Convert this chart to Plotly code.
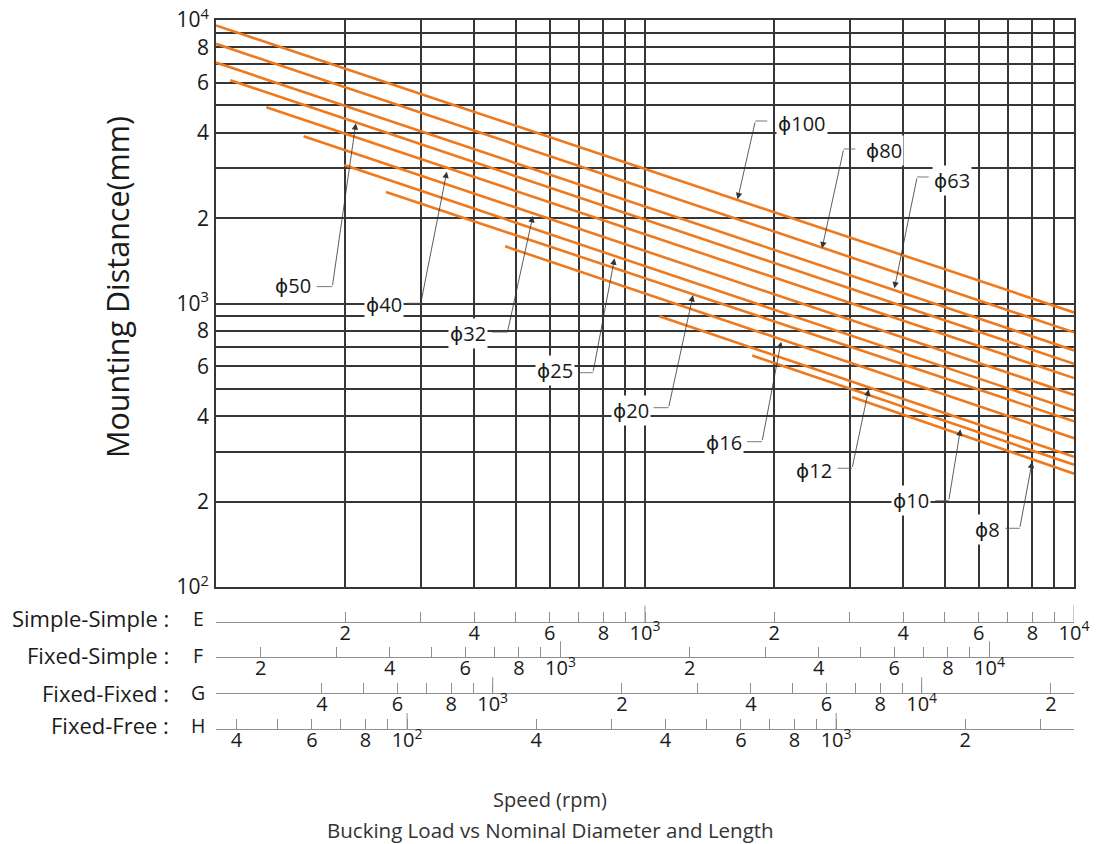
import numpy as np
import plotly.graph_objects as go

# ---------------- data ----------------
diameters = ['100', '80', '63', '50', '40', '32', '25', '20', '16', '12', '10', '8']
start_speed = [100, 100, 100, 108, 131, 160, 199, 249, 472, 1080, 1778, 3038]
start_dist = [9564, 8241, 7078, 6131, 4921, 3890, 3082, 2475, 1591, 901, 655, 468]
end_speed = [10000, 10000, 10000, 10000, 10000, 10000, 10000, 10000, 10000, 10000, 10000, 10000]
end_dist = [930, 791, 683, 613, 546, 476, 419, 384, 335, 288, 270, 251]

# label callouts (speed, distance)
label_speed = [2327, 3614, 5208, 151.5, 246.1, 387.7, 616.6, 928.8, 1532, 2473, 4167, 6301]
label_dist = [4314, 3479, 2726, 1162, 988, 785, 579.4, 417.7, 323.9, 257.2, 202.7, 158.9]
leader_text_speed = [1928, 3093, 4585, 171.8, 278.5, 439.5, 699.8, 1047, 1729, 2812, 4753, 6922]
elbow_speed = [1808, 2905, 4309, 186.7, 300.2, 478, 756.3, 1135, 1874, 3039, 5105, 7474]
elbow_dist = [4403, 3508, 2794, 1147, 1002, 793, 570, 429, 325.4, 262.3, 201.6, 161.1]
tip_speed = [1644, 2586, 3814, 211.8, 345.2, 547.8, 849.2, 1294, 2076, 3322, 5436, 7989]
tip_dist = [2331, 1565, 1131, 4321, 2917, 2035, 1443, 1071, 733.5, 498, 359.9, 276.7]

# main grid
x_grid_vals = [100, 200, 300, 400, 500, 600, 700, 800, 900,
               1000, 2000, 3000, 4000, 5000, 6000, 7000, 8000, 9000, 10000]
y_tick_vals = [100, 200, 400, 600, 800, 1000, 2000, 4000, 6000, 8000, 10000]
y_tick_text = ['10<sup>2</sup>', '2', '4', '6', '8', '10<sup>3</sup>', '2', '4', '6', '8', '10<sup>4</sup>']
y_minor_vals = [300, 500, 700, 900, 3000, 5000, 7000, 9000]

# speed scales
row_names = ['Simple-Simple :', 'Fixed-Simple :', 'Fixed-Fixed :', 'Fixed-Free :']
row_letters = ['E', 'F', 'G', 'H']
row_labeled = [
    [200, 400, 600, 800, 1000, 2000, 4000, 6000, 8000, 10000],
    [200, 400, 600, 800, 1000, 2000, 4000, 6000, 8000, 10000],
    [400, 600, 800, 1000, 2000, 4000, 6000, 8000, 10000, 20000],
    [40, 60, 80, 100, 200, 400, 600, 800, 1000, 2000],
]
row_text = [
    ['2', '4', '6', '8', '10<sup>3</sup>', '2', '4', '6', '8', '10<sup>4</sup>'],
    ['2', '4', '6', '8', '10<sup>3</sup>', '2', '4', '6', '8', '10<sup>4</sup>'],
    ['4', '6', '8', '10<sup>3</sup>', '2', '4', '6', '8', '10<sup>4</sup>', '2'],
    ['4', '6', '8', '10<sup>2</sup>', '4', '4', '6', '8', '10<sup>3</sup>', '2'],
]
row_minor = [
    [100, 300, 500, 700, 900, 3000, 5000, 7000, 9000],
    [300, 500, 700, 900, 3000, 5000, 7000, 9000],
    [500, 700, 900, 3000, 5000, 7000, 9000],
    [50, 70, 90, 300, 500, 700, 900, 3000],
]
row_decades = [[1000, 10000], [1000, 10000], [1000, 10000], [100, 1000]]

# ---------------- layout constants ----------------
W, H = 1097, 844
ML, MR, MT, MB = 216, 23, 20, 115
PW, PH = W - ML - MR, H - MT - MB
def py(ypix):
    return (H - MB - ypix) / PH
def px(xpix):
    return (xpix - ML) / PW

ORANGE = '#EF7A1E'
GRID = '#363636'
SCALE = '#8f8f8f'
FONT = 'Open Sans'
PHI = "<span style=\"font-family:'DejaVu Sans'\">ϕ</span>"

row_ranges = [[2.0, 4.0], [2.197, 4.197], [2.355, 4.355], [1.5545, 3.5545]]
row_pos = [py(621.7), py(657.3), py(693.3), 0.0]
row_label_y = [py(618), py(655), py(692.5), py(725)]

fig = go.Figure()
for i in range(len(diameters)):
    fig.add_trace(go.Scatter(
        x=[start_speed[i], end_speed[i]], y=[start_dist[i], end_dist[i]],
        mode='lines', line=dict(color=ORANGE, width=2.6),
        name='ϕ' + diameters[i], hoverinfo='skip', showlegend=False))

layout = dict(
    width=W, height=H,
    margin=dict(l=ML, r=MR, t=MT, b=MB, autoexpand=False),
    plot_bgcolor='white', paper_bgcolor='white',
    font=dict(family=FONT, color='#1a1a1a'),
    showlegend=False,
    xaxis=dict(type='log', range=[2, 4], domain=[0, 1], anchor='y', automargin=False,
               tickmode='array', tickvals=x_grid_vals, showticklabels=False, ticks='',
               showgrid=True, gridcolor=GRID, gridwidth=1.8,
               showline=True, linecolor=GRID, linewidth=1.8, mirror=True, zeroline=False),
    yaxis=dict(type='log', range=[2, 4], domain=[py(587), 1], anchor='x', automargin=False,
               tickmode='array', tickvals=y_tick_vals, ticktext=y_tick_text, ticks='',
               tickfont=dict(size=21, color='#1a1a1a'), ticklabelstandoff=1,
               showgrid=True, gridcolor=GRID, gridwidth=1.8,
               minor=dict(tickmode='array', tickvals=y_minor_vals, ticks='',
                          showgrid=True, gridcolor=GRID, gridwidth=1.8),
               showline=True, linecolor=GRID, linewidth=1.8, mirror=True, zeroline=False),
)

shapes = []
annotations = []
for r in range(4):
    ax_name = 'xaxis%d' % (r + 2)
    ref = 'x%d' % (r + 2)
    layout[ax_name] = dict(
        type='log', range=row_ranges[r], overlaying='x', anchor='free',
        position=row_pos[r], side='bottom', automargin=False,
        showline=True, linecolor=SCALE, linewidth=1,
        tickmode='array', tickvals=row_labeled[r], ticktext=row_text[r],
        ticks='inside', ticklen=10, tickwidth=1, tickcolor=SCALE,
        tickfont=dict(size=20, color='#1a1a1a'), ticklabelstandoff=-7,
        minor=dict(tickmode='array', tickvals=row_minor[r], ticks='inside',
                   ticklen=10, tickwidth=1, tickcolor=SCALE, showgrid=False),
        showgrid=False, zeroline=False)
    fig.add_trace(go.Scatter(x=[row_labeled[r][0]], y=[1000], xaxis=ref, yaxis='y',
                             mode='markers', marker=dict(opacity=0),
                             hoverinfo='skip', showlegend=False))
    for d in row_decades[r]:
        shapes.append(dict(type='line', xref=ref, yref='paper', x0=d, x1=d,
                           y0=row_pos[r], y1=row_pos[r] + 16 / PH,
                           line=dict(color=SCALE, width=1)))
    annotations.append(dict(xref='paper', yref='paper', x=px(171), y=row_label_y[r],
                            xanchor='right', yanchor='middle', showarrow=False,
                            text=row_names[r], font=dict(size=22, color='#1a1a1a')))
    annotations.append(dict(xref='paper', yref='paper', x=px(198), y=row_label_y[r],
                            xanchor='center', yanchor='middle', showarrow=False,
                            text=row_letters[r], font=dict(size=19.5, color='#1a1a1a')))

# callouts
for i in range(len(diameters)):
    shapes.append(dict(type='line', xref='x', yref='y',
                       x0=leader_text_speed[i], x1=elbow_speed[i],
                       y0=elbow_dist[i], y1=elbow_dist[i],
                       line=dict(color='#555555', width=0.8)))
    annotations.append(dict(xref='x', yref='y', axref='x', ayref='y',
                            x=np.log10(tip_speed[i]), y=np.log10(tip_dist[i]),
                            ax=np.log10(elbow_speed[i]), ay=np.log10(elbow_dist[i]),
                            text='', showarrow=True, arrowhead=2, arrowsize=1.6,
                            arrowwidth=0.8, arrowcolor='#333333'))
    annotations.append(dict(xref='x', yref='y',
                            x=np.log10(label_speed[i]), y=np.log10(label_dist[i]),
                            text=PHI + diameters[i], showarrow=False, bgcolor='white',
                            borderpad=1, font=dict(size=20, color='#1a1a1a')))

# titles
annotations.append(dict(xref='paper', yref='paper', x=px(117), y=py(287),
                        text='Mounting Distance(mm)', textangle=-90, showarrow=False,
                        xanchor='center', yanchor='middle',
                        font=dict(size=30.5, color='#1a1a1a')))
annotations.append(dict(xref='paper', yref='paper', x=px(550), y=py(799),
                        text='Speed (rpm)', showarrow=False,
                        xanchor='center', yanchor='middle',
                        font=dict(size=20, color='#333333')))
annotations.append(dict(xref='paper', yref='paper', x=px(550), y=py(830),
                        text='Bucking Load vs Nominal Diameter and Length', showarrow=False,
                        xanchor='center', yanchor='middle',
                        font=dict(size=20.5, color='#333333')))

layout['shapes'] = shapes
layout['annotations'] = annotations
fig.update_layout(**layout)
fig.write_html('out.html', config={'displayModeBar': False},
               post_script="document.body.style.margin='0px';document.body.style.overflow='hidden';")
